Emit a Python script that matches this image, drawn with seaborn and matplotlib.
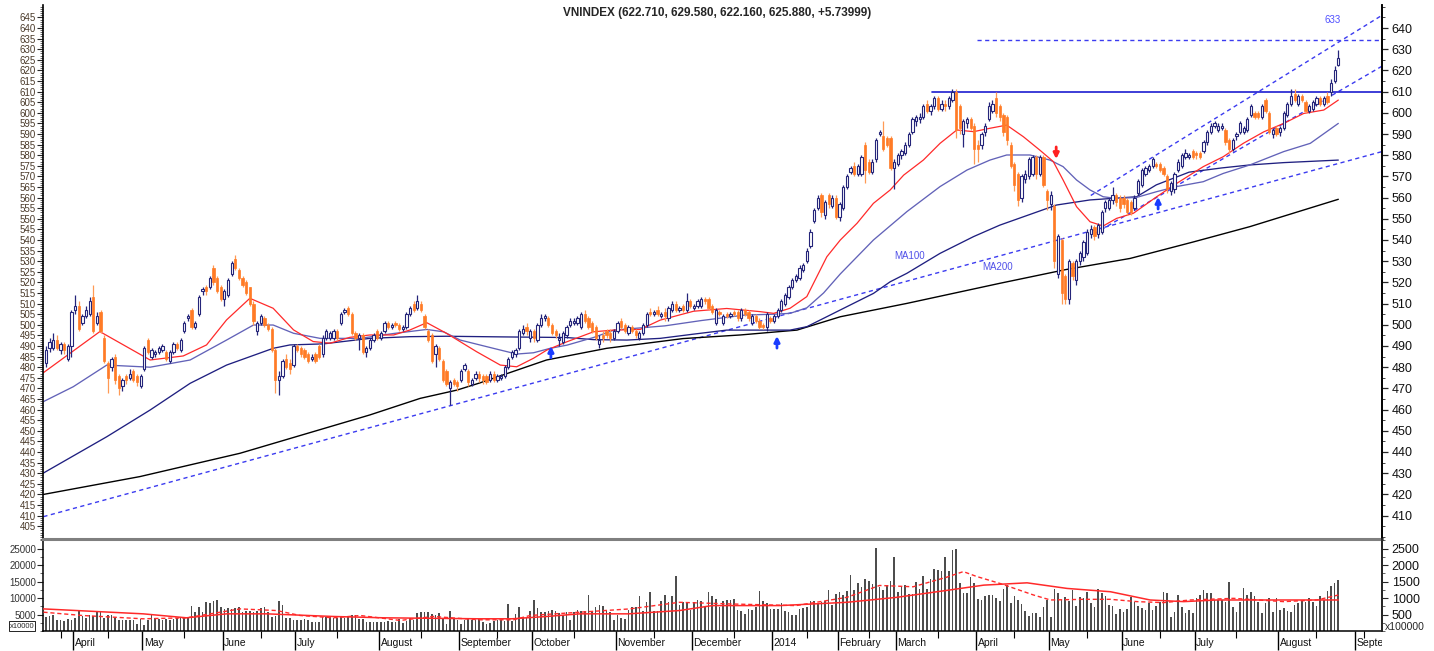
import matplotlib
matplotlib.use("Agg")
import matplotlib.pyplot as plt
import numpy as np
import seaborn as sns
from matplotlib.ticker import MultipleLocator, FixedLocator, NullFormatter
from matplotlib.transforms import Bbox


TITLE = "VNINDEX (622.710, 629.580, 622.160, 625.880, +5.73999)"

# daily candles, 20 Mar 2013 .. 22 Aug 2014, one line per month
OPENS = [
    482, 489, 489, 493, 488, 491, 484, 490,
    507, 509, 501, 504, 505, 513, 501, 506, 494, 482, 480, 485, 476, 471, 476, 475, 478, 476, 471,
    479, 493, 485, 486, 487, 488, 487, 483, 487, 491, 488, 497, 503, 507, 499, 505, 516, 518, 518, 527, 522, 518,
    512, 514, 524, 531, 526, 522, 520, 518, 510, 497, 501, 503, 500, 498, 488, 474, 476, 484, 482, 481,
    490, 489, 488, 486, 484, 486, 490, 486, 494, 494, 494, 497, 501, 506, 508, 505, 496, 494, 495, 487, 489, 493, 497,
    494, 497, 501, 499, 501, 500, 498, 499, 505, 510, 508, 510, 504, 497, 495, 486, 489, 483, 478, 470, 474, 473,
    474, 479, 478, 472, 475, 477, 476, 476, 474, 477, 474, 475, 476, 480, 485, 486, 489, 496, 499, 494,
    497, 493, 500, 503, 503, 500, 497, 493, 492, 495, 500, 501, 501, 499, 505, 503, 501, 499, 491, 495, 497, 496, 494,
    497, 502, 500, 496, 499, 497, 494, 496, 500, 506, 505, 507, 504, 506, 503, 507, 510, 507, 509, 507, 511,
    508, 509, 509, 512, 512, 509, 501, 506, 501, 505, 504, 506, 506, 503, 507, 506, 501, 504, 502, 500, 499, 503,
    502, 504, 507, 510, 513, 518, 521, 522, 526, 530, 537, 549, 555, 561, 552, 561, 556, 560,
    551, 555, 565, 572, 575, 571, 571, 585, 577, 572, 578, 590, 589, 588, 588, 574,
    576, 580, 581, 585, 591, 596, 597, 598, 604, 601, 603, 607, 602, 604, 603, 606, 610, 603, 590, 595, 597, 594,
    585, 585, 591, 597, 601, 607, 603, 599, 598, 585, 576, 571, 560, 569, 570, 571, 579, 571, 579, 563,
    557, 556, 524, 540, 523, 512, 529, 521, 530, 532, 534, 543, 546, 543, 544, 555, 555, 559, 561, 560,
    560, 559, 558, 555, 562, 566, 571, 573, 575, 576, 576, 574, 570, 563, 564, 573, 575, 579, 579, 582,
    581, 581, 582, 586, 591, 594, 592, 593, 592, 587, 583, 589, 591, 591, 592, 599, 600, 600, 598, 606, 600, 590, 593,
    591, 593, 599, 604, 609, 604, 608, 605, 601, 602, 604, 607, 604, 608, 610, 615, 622.71,
]
HIGHS = [
    490, 494, 496, 495, 492, 492, 491, 507,
    514, 511, 505, 509, 513, 519, 506, 507, 495, 483, 485, 486, 477, 475, 477, 479, 479, 477, 477,
    490, 494, 489, 488, 490, 491, 488, 488, 492, 492, 494, 502, 505, 508, 502, 514, 518, 519, 523, 528, 523, 519,
    517, 522, 530, 533, 527, 523, 521, 518, 511, 502, 505, 504, 501, 499, 489, 478, 484, 486, 484, 491,
    491, 490, 489, 487, 486, 487, 491, 495, 498, 497, 498, 498, 506, 508, 509, 506, 497, 496, 496, 490, 494, 496, 498,
    497, 502, 502, 501, 502, 501, 500, 506, 509, 511, 514, 511, 505, 498, 496, 491, 490, 484, 479, 474, 475, 474,
    479, 482, 479, 475, 478, 478, 477, 477, 478, 478, 477, 477, 481, 485, 488, 489, 498, 500, 501, 498,
    498, 501, 505, 505, 504, 501, 498, 496, 497, 500, 503, 503, 504, 506, 507, 504, 502, 500, 495, 497, 498, 498, 498,
    502, 503, 501, 500, 500, 498, 497, 501, 506, 508, 507, 509, 506, 508, 509, 511, 511, 509, 510, 515, 512,
    510, 512, 513, 513, 513, 510, 508, 507, 505, 506, 506, 507, 507, 508, 508, 507, 505, 505, 503, 501, 506, 504,
    505, 508, 512, 515, 519, 522, 524, 528, 529, 536, 545, 555, 561, 562, 559, 562, 561, 561,
    558, 566, 571, 575, 577, 576, 580, 586, 578, 578, 588, 592, 596, 589, 589, 578,
    581, 583, 586, 591, 598, 599, 600, 604, 606, 604, 608, 608, 606, 606, 608, 611, 611, 604, 597, 598, 598, 595,
    587, 591, 595, 605, 606, 610, 604, 600, 599, 586, 577, 572, 571, 573, 579, 580, 580, 580, 580, 564,
    563, 557, 543, 541, 524, 531, 530, 531, 535, 540, 545, 547, 547, 548, 554, 559, 560, 565, 562, 561,
    561, 560, 559, 561, 569, 574, 575, 576, 579, 577, 577, 575, 571, 568, 572, 578, 581, 583, 581, 583,
    582, 582, 587, 592, 595, 596, 595, 595, 593, 588, 588, 591, 596, 594, 598, 604, 601, 601, 604, 607, 601, 593, 594,
    594, 601, 605, 611, 611, 609, 609, 606, 604, 606, 608, 608, 608, 610, 616, 622, 629.58,
]
LOWS = [
    480, 487, 488, 488, 486, 486, 483, 485,
    505, 497, 500, 503, 504, 496, 500, 496, 482, 468, 478, 472, 467, 469, 472, 474, 473, 471, 470,
    478, 486, 484, 485, 486, 487, 483, 482, 486, 488, 487, 496, 502, 498, 498, 504, 514, 514, 517, 519, 515, 511,
    509, 513, 523, 526, 521, 518, 514, 509, 500, 495, 500, 499, 497, 487, 468, 467, 475, 479, 477, 480,
    487, 485, 484, 482, 483, 482, 484, 485, 493, 493, 493, 493, 500, 505, 504, 495, 493, 488, 486, 485, 488, 492, 493,
    493, 496, 498, 498, 499, 497, 497, 498, 504, 506, 507, 506, 498, 492, 482, 480, 483, 473, 471, 462, 471, 469,
    473, 478, 471, 471, 474, 473, 472, 472, 473, 473, 473, 474, 475, 479, 484, 485, 488, 495, 495, 492,
    492, 492, 499, 502, 499, 495, 494, 490, 491, 494, 499, 500, 500, 498, 501, 498, 496, 493, 489, 492, 494, 492, 493,
    496, 498, 496, 495, 496, 494, 493, 495, 499, 504, 504, 504, 503, 502, 502, 506, 506, 506, 506, 506, 508,
    507, 508, 508, 510, 507, 505, 500, 504, 500, 503, 503, 504, 502, 502, 504, 502, 500, 501, 498, 498, 497, 501,
    501, 503, 506, 509, 512, 517, 520, 521, 525, 529, 536, 548, 554, 551, 550, 555, 555, 550,
    549, 554, 564, 571, 570, 570, 570, 567, 571, 571, 577, 589, 582, 584, 573, 564,
    575, 578, 580, 584, 590, 594, 595, 597, 600, 599, 602, 601, 601, 601, 602, 605, 588, 590, 584, 593, 592, 576,
    577, 583, 589, 596, 600, 598, 596, 589, 585, 574, 563, 556, 558, 567, 569, 570, 569, 570, 565, 554,
    554, 527, 522, 510, 510, 510, 521, 519, 528, 530, 533, 541, 540, 541, 543, 553, 554, 557, 556, 553,
    555, 552, 552, 554, 561, 565, 570, 572, 574, 574, 572, 570, 562, 561, 562, 572, 574, 578, 578, 578,
    578, 578, 581, 585, 590, 593, 591, 592, 585, 581, 582, 587, 590, 590, 591, 598, 597, 597, 597, 600, 590, 588, 589,
    589, 592, 598, 603, 605, 603, 605, 600, 600, 601, 603, 603, 603, 604, 608, 614, 622.16,
]
CLOSES = [
    488, 492, 493, 489, 491, 488, 490, 506,
    509, 498, 504, 507, 511, 497, 504, 497, 483, 475, 484, 474, 470, 474, 474, 477, 474, 473, 476,
    489, 487, 488, 487, 489, 490, 484, 487, 491, 489, 493, 501, 504, 499, 501, 513, 517, 516, 522, 520, 516, 512,
    516, 521, 529, 527, 522, 519, 515, 510, 502, 501, 504, 500, 498, 488, 474, 476, 483, 480, 479, 490,
    488, 486, 485, 483, 485, 483, 485, 494, 497, 496, 497, 494, 505, 507, 505, 496, 494, 495, 487, 489, 493, 495, 494,
    496, 501, 499, 500, 500, 498, 499, 505, 508, 507, 511, 507, 499, 493, 483, 490, 484, 474, 472, 473, 472, 471,
    478, 481, 473, 474, 477, 475, 474, 473, 477, 474, 476, 476, 480, 484, 487, 488, 497, 498, 497, 497,
    494, 500, 503, 504, 500, 496, 495, 494, 496, 499, 502, 502, 503, 505, 502, 499, 497, 494, 493, 494, 495, 494, 497,
    501, 499, 497, 499, 497, 495, 496, 500, 505, 505, 506, 505, 505, 504, 508, 510, 507, 508, 507, 511, 509,
    509, 511, 512, 511, 508, 506, 507, 505, 504, 504, 505, 505, 503, 507, 505, 503, 504, 502, 499, 499, 505, 502,
    504, 507, 511, 514, 518, 521, 523, 527, 528, 535, 544, 554, 560, 553, 558, 557, 560, 551,
    557, 565, 570, 574, 571, 575, 579, 573, 572, 577, 587, 591, 583, 585, 574, 577,
    580, 582, 585, 590, 597, 598, 598, 603, 601, 603, 607, 602, 604, 603, 607, 610, 592, 593, 596, 597, 593, 583,
    583, 590, 594, 603, 604, 600, 598, 591, 587, 575, 566, 559, 570, 571, 578, 579, 571, 579, 566, 559,
    561, 530, 542, 515, 512, 530, 523, 530, 534, 539, 544, 545, 542, 547, 553, 558, 559, 561, 558, 555,
    557, 553, 553, 560, 568, 573, 574, 575, 578, 575, 573, 571, 564, 567, 571, 577, 580, 581, 580, 579,
    580, 579, 586, 591, 594, 595, 594, 594, 586, 583, 587, 590, 595, 593, 597, 603, 598, 598, 603, 601, 591, 592, 590,
    593, 600, 604, 608, 606, 608, 606, 601, 603, 605, 607, 604, 607, 605, 614, 620.14, 625.88,
]
# volume, in units of 10000 shares
VOLUMES = [
    4200, 4400, 4700, 3200, 3200, 3000, 3700, 3400,
    4000, 6500, 4400, 4000, 4700, 4400, 5700, 6200, 4000, 4700, 5000, 4000, 3200, 3200, 3200, 3400, 3400, 2200, 3700,
    1700, 3400, 5200, 4000, 3700, 3400, 3700, 3200, 3700, 4000, 4000, 4000, 4000, 7700, 5700, 7400, 5700, 8900, 8400, 9000, 9500, 7200,
    6700, 7000, 6700, 6900, 7200, 5700, 6000, 6200, 5700, 6200, 7000, 7200, 5700, 4200, 4400, 9000, 8000, 4000, 4000, 3200,
    3400, 3200, 3700, 3200, 2700, 2700, 2700, 4200, 4200, 4200, 4000, 4000, 4200, 4000, 4400, 4700, 5000, 3700, 3700, 2700, 2700, 2700, 2700,
    2700, 2700, 3000, 2700, 2700, 3700, 2400, 3000, 4000, 3400, 5400, 5700, 5700, 5700, 5200, 5000, 5400, 3700, 2200, 6200, 3700, 3200,
    2200, 3200, 4000, 3400, 3200, 3700, 2700, 2200, 2400, 3000, 3200, 3200, 3000, 8200, 3000, 5200, 7400, 4200, 4000, 6200,
    9400, 7000, 5700, 5700, 6200, 6400, 6200, 5400, 5000, 5700, 3200, 5700, 6400, 6200, 6200, 10800, 5700, 7200, 8000, 7700, 6200, 5700, 3200,
    5000, 4000, 3700, 6400, 7200, 7400, 10500, 6200, 8700, 11800, 6200, 6200, 9000, 11000, 8700, 10500, 16800, 8000, 8700, 8400, 6400,
    8700, 9400, 9200, 7700, 11800, 10500, 9700, 7400, 9200, 9400, 9400, 9700, 6400, 6200, 5200, 6700, 6400, 7400, 12100, 9200, 8400, 6700,
    6700, 6700, 8400, 6000, 5700, 5000, 4700, 6700, 7000, 7200, 9000, 9200, 8400, 8700, 9200, 12500, 8000, 11200,
    11800, 10800, 12100, 17100, 12300, 14500, 13400, 15800, 15300, 14100, 25200, 13300, 12500, 13800, 15300, 22400,
    11800, 13500, 13800, 11300, 11100, 14800, 12800, 16800, 12800, 15800, 18800, 18500, 18300, 22400, 18300, 24400, 24900, 14600, 11600, 11600, 16500, 14400,
    9600, 9400, 10600, 10900, 10900, 9900, 9200, 12600, 13900, 8600, 10600, 9400, 8200, 6100, 4500, 5600, 5400, 4100, 7200, 9400,
    4300, 12600, 11400, 9400, 10400, 9200, 12400, 7600, 10400, 9900, 11900, 8400, 7400, 12600, 11600, 10600, 7900, 7600, 5200, 6600,
    5900, 6600, 10400, 8900, 7600, 6900, 6400, 8400, 6400, 7600, 8900, 11900, 11600, 4300, 5900, 10900, 7200, 5600, 6400, 5600,
    9900, 10900, 12400, 11400, 11400, 9400, 9400, 9400, 8900, 14900, 7400, 5900, 8900, 12900, 10900, 11700, 10600, 8900, 5600, 8600, 9900, 5900, 9900,
    6400, 6900, 6100, 5900, 7900, 8400, 9200, 8900, 9900, 8900, 7600, 10600, 9400, 12200, 13600, 14400, 15500,
]

# trading days per month (March 2013 partial, September 2014 only a stub)
MONTH_DAYS = [8, 19, 22, 20, 23, 22, 20, 23, 21, 22, 18, 16, 22, 20, 20, 20, 23, 21, 5]
MONTH_LABELS = ["", "April", "May", "June", "July", "August", "September", "October",
                "November", "December", "2014", "February", "March", "April", "May",
                "June", "July", "August", "September"]

# moving averages at a few days each
MA10_X = [-1.6, 14.8, 28.6, 37.7, 44.1, 49.6, 56, 62.4, 68, 73.4, 78, 83.5, 89, 95.5, 99.9, 104.6,
          110.1, 118.3, 124.8, 129.3, 133.9, 137.6, 143.1, 150.4, 155.9, 163.2, 168.7, 177.9, 187,
          196.2, 199.9, 204.4, 209, 214.5, 218.2, 222.8, 227.3, 231.9, 235.6, 241, 245.6, 250.2,
          254.8, 259.3, 263.9, 268.5, 273, 276.7, 279.4, 283.1, 286.8, 290.4, 294.1, 298.7, 305.1,
          310.6, 317.9, 323.4, 328.9, 334.5, 340, 345.5, 351, 355]
MA10_Y = [476.3, 496.8, 483.4, 485.3, 490.5, 502.3, 512.5, 507.8, 497.6, 492.1, 491.3, 494.1, 495.2,
          495.2, 497.5, 501, 495.9, 487.3, 481, 480.2, 484.2, 488.1, 492, 496.7, 497.5, 497.8, 502.2,
          506.4, 507.7, 506.2, 505.4, 507.8, 513.3, 532.1, 540, 547.9, 557.3, 563.6, 570.6, 577.7,
          585.6, 591.9, 591.1, 592.7, 594.2, 588.7, 582.4, 577, 568.3, 555.7, 548.6, 546.6, 550.2,
          552.6, 560.4, 566.7, 574.6, 579.3, 585.6, 591, 595, 599.7, 601.3, 606]
MA50_X = [-1.6, 7.5, 16.7, 28.6, 39.6, 49.6, 57, 62.4, 68, 75.3, 86.3, 95.5, 104.6, 109.2, 113.8,
          122.9, 129.3, 133.9, 138.5, 143.1, 150.4, 156, 170, 180, 192, 200, 204.4, 209, 213.6,
          218.2, 227.3, 236.5, 245.6, 253, 259.3, 263.9, 270.3, 275.8, 279.4, 283.1, 286.8, 290.4,
          294.1, 299.6, 305.1, 310.6, 317.9, 323.4, 330.7, 340, 347.3, 355]
MA50_Y = [463, 470.8, 481, 480, 483.4, 492.8, 499.9, 499.9, 496, 493.6, 493.6, 495.9, 497.8, 496.7,
          492.8, 488.9, 486.2, 486.8, 488.9, 490.4, 494, 497.5, 499.5, 502, 504.6, 505, 505.4, 508,
          515, 524, 540, 553.4, 565.2, 573, 577.7, 580.1, 580.1, 577.7, 574.6, 568.3, 563.6, 560.4,
          559.6, 560.1, 562.8, 565.2, 567.5, 571.4, 575.4, 581.7, 585.6, 595]
MA100_X = [-1.6, 16.7, 28.6, 39.6, 49.6, 62.4, 67, 76.2, 89, 100, 110, 125, 143, 150.4, 159.6,
           168.7, 177.9, 187, 196, 204.4, 209, 218.2, 227.3, 231.9, 236.5, 245.6, 254.8, 262,
           277.6, 286.8, 299.6, 305, 314, 323, 330.7, 340, 355]
MA100_Y = [429.2, 447.2, 459.8, 472.4, 481, 488.9, 490.5, 491, 493.6, 494.4, 494.6, 494.3, 494, 493,
           492.8, 493.6, 495.6, 497.5, 497.5, 497.5, 499.1, 507, 514.8, 520.3, 524.3, 533.7, 541.6,
           547, 556.5, 558.9, 560.4, 566, 572, 574, 575.4, 576.5, 577.7]
MA200_X = [-1.6, 25.8, 53.3, 89, 102.8, 112.9, 119.2, 137.5, 154, 175, 190.7, 206.3, 218.2, 236.5,
           262.1, 280, 297.8, 315, 330.7, 355]
MA200_Y = [419.7, 428.4, 439.4, 457.5, 465.3, 469.2, 472.6, 483.4, 488.9, 493.5, 495.2, 497.5,
           503.8, 510.1, 519.6, 526, 531.3, 539, 546.3, 559.2]

VMA_SLOW_X = [-0.7, 26.7, 38.6, 49.6, 60.6, 79, 92.7, 119, 128, 137.5, 146.7, 160, 174, 183, 201.6,
              220, 233.7, 247.4, 257.6, 269.5, 280.5, 292.4, 303.3, 312.5, 321.7, 340, 355]
VMA_SLOW_Y = [6700, 5200, 4000, 5200, 5200, 4400, 4000, 3700, 3700, 4400, 5200, 5200, 6200, 7700,
              7700, 8700, 10200, 12300, 13900, 14600, 12900, 11900, 9400, 8900, 9400, 9400, 9400]
VMA_FAST_X = [-0.7, 10, 26.7, 38.6, 53.3, 63.4, 69.8, 79, 86.3, 97.3, 106.4, 119, 128.4, 133, 146.7,
              160.4, 174, 187.9, 206, 220, 229, 238.2, 247.4, 252, 255.7, 262.1, 271.3, 275.9, 285,
              292.4, 299.7, 307, 314.3, 326.2, 340, 349.1, 355]
VMA_FAST_Y = [5700, 4700, 3700, 4000, 6700, 6200, 4700, 4000, 4700, 3200, 4400, 3400, 3400, 4700,
              5700, 6700, 8700, 8200, 7700, 10200, 13800, 13400, 16300, 18000, 16500, 14400, 10900,
              9400, 9600, 9600, 8900, 8600, 9400, 9900, 8900, 9400, 10900]

# drawn studies: (day, price) end points
TREND_LONG = ([-0.7, 367], [409.5, 581.7])
CHANNEL_UP = ([287, 367], [561, 646])
CHANNEL_LOW = ([288, 367], [543, 622])
RESIST_610 = ([243.4, 367], [610, 610])
TARGET_633 = ([255.8, 367], [634.3, 634.3])
UP_ARROWS = [(138.7, 484.4, 490.0), (200.8, 489.0, 494.7), (305.5, 554.6, 560.3)]
DOWN_ARROWS = [(277.5, 583.9, 578.2)]

UP_COLOR = "#25257a"
DOWN_COLOR = "#ff7b26"
DOWN_WICK = "#ff9a55"
LINE_BLUE = "#3b3bf0"

W, H = 1434, 651


def main() -> None:
    sns.set_theme(style="white")
    plt.rcParams["font.family"] = ["Liberation Sans", "DejaVu Sans"]

    o = np.array(OPENS, dtype=float)
    h = np.array(HIGHS, dtype=float)
    lo = np.array(LOWS, dtype=float)
    c = np.array(CLOSES, dtype=float)
    vol = np.array(VOLUMES, dtype=float)
    x = np.arange(len(c))
    h = np.maximum(h, np.maximum(o, c))
    lo = np.minimum(lo, np.minimum(o, c))

    fig = plt.figure(figsize=(W / 100, H / 100), dpi=100)
    left, width = 43 / W, (1382 - 43) / W
    ax = fig.add_axes([left, 1 - 539 / H, width, (539 - 5) / H])
    axv = fig.add_axes([left, 1 - 631 / H, width, (631 - 539) / H], sharex=ax)
    xmin, xmax = -0.82, 367
    ax.set_xlim(xmin, xmax)
    ax.set_ylim(398.96, 650.85)
    axv.set_ylim(0, 27880)

    # studies
    for xs, ys in (TREND_LONG, CHANNEL_UP, CHANNEL_LOW, TARGET_633):
        ax.plot(xs, ys, color=LINE_BLUE, lw=1.0, dashes=(3, 2.5), zorder=2)
    ax.plot(*RESIST_610, color="#1c1cd0", lw=1.2, zorder=2)

    # moving averages
    sns.lineplot(x=MA200_X, y=MA200_Y, ax=ax, color="black", lw=1.0, estimator=None, sort=False, zorder=2)
    sns.lineplot(x=MA100_X, y=MA100_Y, ax=ax, color="#1f1f80", lw=0.95, estimator=None, sort=False, zorder=2)
    sns.lineplot(x=MA50_X, y=MA50_Y, ax=ax, color="#6262b8", lw=0.95, estimator=None, sort=False, zorder=2)
    sns.lineplot(x=MA10_X, y=MA10_Y, ax=ax, color="#ff2a2a", lw=0.9, estimator=None, sort=False, zorder=2)

    # candles
    up = c >= o
    ax.vlines(x[up], lo[up], h[up], color=UP_COLOR, lw=0.9, zorder=3)
    ax.vlines(x[~up], lo[~up], h[~up], color=DOWN_WICK, lw=0.9, zorder=3)
    body = np.maximum(np.abs(c - o), 0.35)
    bottom = np.minimum(o, c)
    ax.bar(x[up], body[up], bottom=bottom[up], width=0.62, facecolor="white",
           edgecolor=UP_COLOR, linewidth=0.8, zorder=4)
    ax.bar(x[~up], body[~up], bottom=bottom[~up], width=0.62, facecolor=DOWN_COLOR,
           edgecolor=DOWN_COLOR, linewidth=0.5, zorder=4)

    # signal arrows
    for xi, y0, y1 in UP_ARROWS:
        ax.annotate("", xy=(xi, y1), xytext=(xi, y0), zorder=5,
                    arrowprops=dict(arrowstyle="-|>", color="#1a3cff", lw=2.0,
                                    mutation_scale=8, shrinkA=0, shrinkB=0))
    for xi, y0, y1 in DOWN_ARROWS:
        ax.annotate("", xy=(xi, y1), xytext=(xi, y0), zorder=5,
                    arrowprops=dict(arrowstyle="-|>", color="#ff2020", lw=2.0,
                                    mutation_scale=8, shrinkA=0, shrinkB=0))

    ax.text(237.1, 532.4, "MA100", color="#5050e8", fontsize=7, ha="center", va="center")
    ax.text(261.5, 527.3, "MA200", color="#5050e8", fontsize=7, ha="center", va="center")
    ax.text(353.3, 643.8, "633", color="#5050ff", fontsize=7, ha="center", va="center")

    # price axes
    ax.yaxis.set_major_locator(FixedLocator(np.arange(405, 646, 5)))
    ax.yaxis.set_minor_locator(MultipleLocator(1))
    ax.tick_params(axis="y", which="major", left=True, direction="out", length=4, width=0.8,
                   pad=1, labelsize=7, labelcolor="#4a3a2a")
    ax.tick_params(axis="y", which="minor", left=True, direction="out", length=2, width=0.5)
    ax.tick_params(axis="x", bottom=False, labelbottom=False, which="both")
    ax.set_xlabel("")
    ax.set_ylabel("")
    for side in ("top", "bottom"):
        ax.spines[side].set_visible(False)
    for side in ("left", "right"):
        ax.spines[side].set_color("black")
        ax.spines[side].set_linewidth(1.2)

    axr = ax.twinx()
    axr.set_ylim(ax.get_ylim())
    axr.yaxis.set_major_locator(FixedLocator(np.arange(410, 641, 10)))
    axr.yaxis.set_minor_locator(MultipleLocator(5))
    axr.tick_params(axis="y", which="major", right=True, direction="out", length=4, width=0.9,
                    pad=3, labelsize=9, labelcolor="#111111")
    axr.tick_params(axis="y", which="minor", right=True, direction="out", length=2, width=0.6)
    for side in ("top", "bottom", "left"):
        axr.spines[side].set_visible(False)
    axr.spines["right"].set_color("black")
    axr.spines["right"].set_linewidth(1.2)

    # volume
    axv.bar(x, vol, width=0.45, color="#4d4d4d", linewidth=0, zorder=2)
    sns.lineplot(x=VMA_SLOW_X, y=VMA_SLOW_Y, ax=axv, color="#ff2a2a", lw=1.1, estimator=None, sort=False, zorder=3)
    sns.lineplot(x=VMA_FAST_X, y=VMA_FAST_Y, ax=axv, color="#ff2a2a", lw=1.0, dashes=False,
                 linestyle=(0, (3, 2)), estimator=None, sort=False, zorder=3)
    axv.set_xlim(xmin, xmax)
    axv.set_ylim(0, 27880)
    axv.yaxis.set_major_locator(FixedLocator([5000, 10000, 15000, 20000, 25000]))
    axv.yaxis.set_minor_locator(MultipleLocator(2500))
    axv.tick_params(axis="y", which="major", left=True, direction="out", length=4, width=0.8,
                    pad=1, labelsize=7, labelcolor="#333333")
    axv.tick_params(axis="y", which="minor", left=True, direction="out", length=2, width=0.5)
    axv.set_xlabel("")
    axv.set_ylabel("")
    axv.spines["top"].set_color("#7f7f7f")
    axv.spines["top"].set_linewidth(2.2)
    for side in ("left", "right", "bottom"):
        axv.spines[side].set_color("black")
        axv.spines[side].set_linewidth(1.1)

    axvr = axv.twinx()
    axvr.set_ylim(0, 2788)
    axvr.yaxis.set_major_locator(FixedLocator([500, 1000, 1500, 2000, 2500]))
    axvr.yaxis.set_minor_locator(MultipleLocator(250))
    axvr.tick_params(axis="y", which="major", right=True, direction="out", length=4, width=0.8,
                     pad=3, labelsize=9, labelcolor="#111111")
    axvr.tick_params(axis="y", which="minor", right=True, direction="out", length=2, width=0.5)
    for side in ("top", "bottom", "left"):
        axvr.spines[side].set_visible(False)

    # month axis
    days = np.array(MONTH_DAYS)
    starts = np.concatenate([[0], np.cumsum(days)[:-1]])
    mids = starts + days // 2
    axv.xaxis.set_major_locator(FixedLocator(starts[1:] - 0.5))
    axv.xaxis.set_minor_locator(FixedLocator(mids))
    axv.xaxis.set_major_formatter(NullFormatter())
    axv.tick_params(axis="x", which="major", bottom=True, direction="out", length=14, width=1.0,
                    color="black", labelbottom=False)
    axv.tick_params(axis="x", which="minor", bottom=True, direction="out", length=5, width=0.8,
                    color="black")
    clip = Bbox.from_extents(0, 0, 1382, H)
    for s, label in zip(starts[1:], MONTH_LABELS[1:]):
        t = axv.text(s - 0.1, -0.13, label, transform=axv.get_xaxis_transform(),
                     ha="left", va="center", fontsize=7.5, color="#111111")
        t.set_clip_on(True)
        t.set_clip_box(clip)

    fig.text(22 / W, 1 - 626 / H, "x10000", fontsize=5.5, ha="center", va="center",
             bbox=dict(boxstyle="square,pad=0.15", fc="white", ec="black", lw=0.6))
    fig.text(1385 / W, 1 - 627 / H, "x100000", fontsize=7.5, ha="left", va="center")
    fig.text(0.5, 1 - 13 / H, TITLE, ha="center", va="center", fontsize=8.5, fontweight="bold")

    fig.savefig("out.png", dpi=100)
    plt.close(fig)


if __name__ == "__main__":
    main()
